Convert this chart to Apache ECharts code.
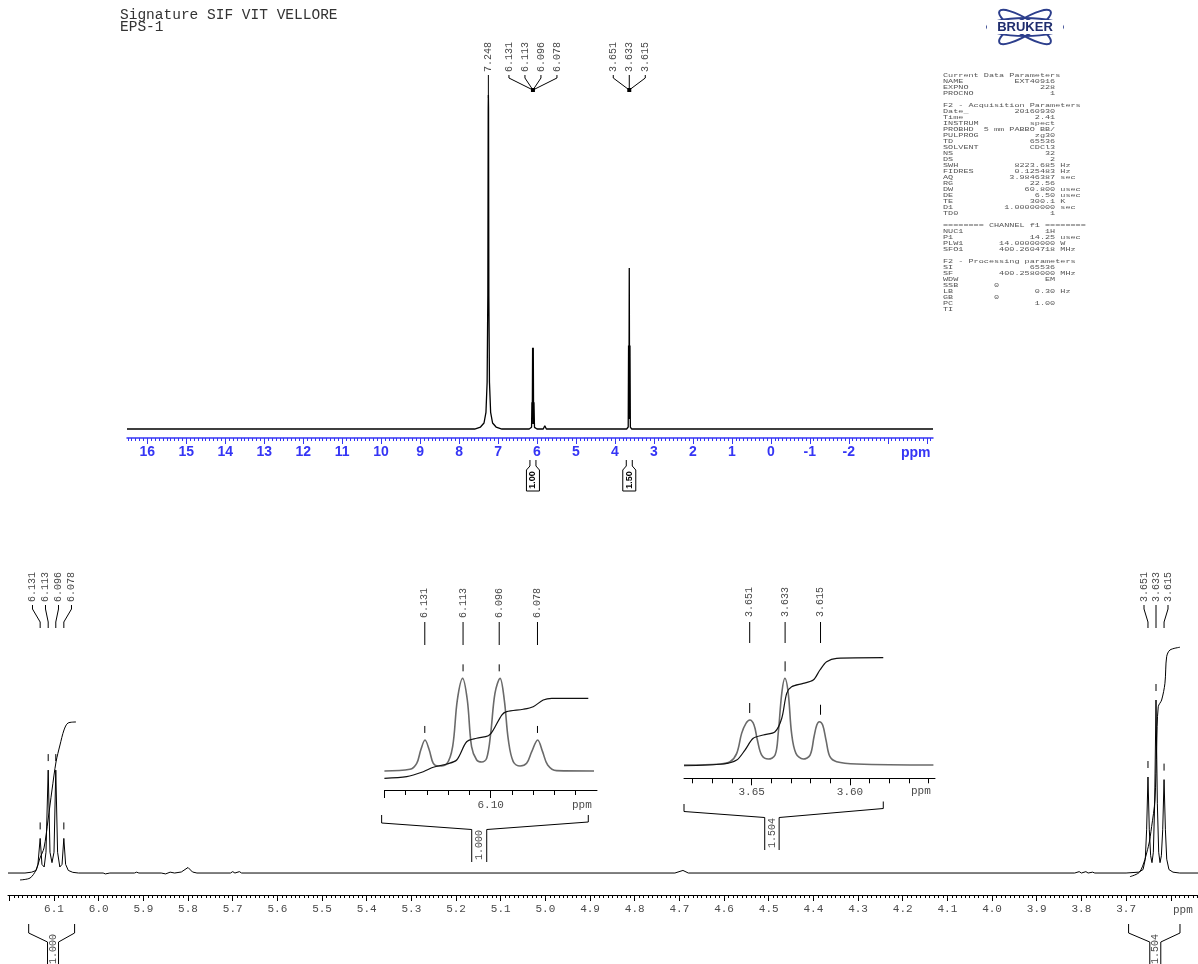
<!DOCTYPE html>
<html><head><meta charset="utf-8">
<script src="https://cdn.jsdelivr.net/npm/echarts@6/dist/echarts.min.js"></script>
<style>html,body{margin:0;padding:0;background:#fff}#c{width:1198px;height:964px}</style>
</head><body><div id="c"></div>
<script>
// ================= DATA =================
const titleLines = ['Signature SIF VIT VELLORE', 'EPS-1'];

// ---- full spectrum (top panel): [ppm, relative intensity] ----
const fullSpectrum = [
  [16.52,0],[12,0],[9,0],[7.6,0],[7.45,0.6],[7.36,1.8],[7.31,5],[7.28,14],[7.262,40],[7.252,96],[7.248,100],[7.244,96],
  [7.236,40],[7.22,14],[7.19,5],[7.14,1.8],[7.05,0.6],[6.9,0],[6.2,0],[6.14,0.5],[6.131,8],[6.122,1.5],
  [6.113,24.3],[6.105,4],[6.096,24.3],[6.087,1.5],[6.078,8],[6.065,0.5],[6.0,0],[5.84,0],[5.8,1],[5.76,0],
  [4.72,0],[4.69,0.5],[4.66,0],[3.7,0],[3.66,0.6],[3.651,25],[3.642,3],[3.633,48.2],[3.624,3],[3.615,25],
  [3.605,0.6],[3.57,0],[-4.16,0]
];
const fullPeakGroups = [[7.248],[6.131,6.113,6.096,6.078],[3.651,3.633,3.615]];
const fullIntegrals = [[6.1045,'1.00'],[3.633,'1.50']];
const fullTickLabels = [16,15,14,13,12,11,10,9,8,7,6,5,4,3,2,1,0,-1,-2];

// ---- expanded spectrum 6.20 - 3.54 ppm (bottom panel) ----
const expSpectrum = [
  [6.203,0],[6.165,0],[6.15,0.5],[6.14,1.5],[6.136,5],[6.131,20],[6.127,5],[6.122,3.5],[6.118,12],[6.113,59.5],
  [6.109,12],[6.1045,6],[6.1,12],[6.096,59.5],[6.092,12],[6.087,3.5],[6.082,5],[6.078,20],[6.074,5],[6.068,1.5],
  [6.058,0.4],[6.045,0],[5.99,0],[5.985,-0.5],[5.975,0],[5.92,0],[5.915,0.5],[5.91,0],[5.86,0],[5.85,-0.5],
  [5.84,0.5],[5.83,0],[5.815,0.6],[5.8,3.2],[5.79,0.6],[5.78,0],[5.705,0],[5.7,0.8],[5.695,0],[5.685,0.8],
  [5.68,0],[4.71,0],[4.692,1.5],[4.68,0],[3.815,0],[3.805,0.8],[3.8,0],[3.79,0.8],[3.785,0],[3.775,0.5],
  [3.77,0],[3.70,0],[3.672,0.5],[3.662,2],[3.657,8],[3.654,25],[3.651,55.5],[3.648,25],[3.645,10],[3.642,6],
  [3.639,12],[3.636,40],[3.633,100],[3.630,40],[3.627,12],[3.624,6],[3.621,10],[3.618,25],[3.615,54],[3.612,25],
  [3.609,8],[3.604,2],[3.595,0.5],[3.58,0],[3.539,0]
];
const expIntegralA = [
  [6.1761,-4.0],[6.1537,-2.9],[6.1403,1.7],[6.1313,8.7],[6.1224,14.5],[6.1134,30.6],[6.1045,48],
  [6.0955,64.2],[6.0866,74],[6.0776,82.7],[6.0687,86.7],[6.0508,87.3]
];
const expIntegralB = [
  [3.6913,-2.1],[3.6689,0.8],[3.6503,15.2],[3.6428,26.8],[3.6354,42.2],[3.6316,73],[3.6280,96.1],
  [3.6204,100],[3.6130,109.7],[3.6092,125],[3.6018,128.9],[3.5794,130.5]
];
const expPeakGroups = [[6.131,6.113,6.096,6.078],[3.651,3.633,3.615]];
const expPeakTops = [[6.131,20],[6.113,59.5],[6.096,59.5],[6.078,20],[3.651,55.5],[3.633,100],[3.615,54]];
const expIntegralRegions = [[6.1567,6.0539,6.1022,'1.000'],[3.6944,3.5793,3.6346,'1.504']];
const expTickLabels = [6.1,6.0,5.9,5.8,5.7,5.6,5.5,5.4,5.3,5.2,5.1,5.0,4.9,4.8,4.7,4.6,4.5,4.4,4.3,4.2,4.1,4.0,3.9,3.8,3.7];

// ---- inset 1 (6.15 - 6.05 ppm) ----
const insetASpectrum = [
  [6.150,0],[6.1380,1.8],[6.1348,8.3],[6.1329,22.7],[6.1309,33.5],[6.1289,22.7],[6.1270,8.3],[6.1246,5.4],
  [6.1207,7.6],[6.1179,26.3],[6.1157,76.6],[6.1132,100],[6.1110,76.6],[6.1090,26.3],[6.1066,11.9],[6.1042,9.7],
  [6.1019,13.7],[6.1000,40.6],[6.0980,83.8],[6.0956,100],[6.0936,76.6],[6.0917,33.5],[6.0894,10.1],[6.0862,5.4],
  [6.0831,8.3],[6.0807,20.9],[6.0779,33.5],[6.0756,20.9],[6.0732,6.5],[6.0690,0.4],[6.0514,0]
];
const insetAIntegral = [
  [6.1500,-7.9],[6.1395,-6.1],[6.1317,-0.8],[6.1270,4.0],[6.1207,7.6],[6.1160,11.9],[6.1113,31.6],[6.1066,35.3],
  [6.1011,38.1],[6.0988,44.2],[6.0948,60.4],[6.0925,64],[6.0847,66.6],[6.0800,69.4],[6.0753,76.6],[6.0713,78.4],[6.0541,78.4]
];
const insetAPeaks = [[6.131,33.5],[6.113,100],[6.096,100],[6.078,33.5]];
const insetARegion = [[6.1513,6.0541,6.1054,'1.000']];
const insetATickLabels = [6.10];

// ---- inset 2 (3.684 - 3.557 ppm) ----
const insetBSpectrum = [
  [3.6844,0],[3.6661,1.2],[3.6610,3.8],[3.6576,13.5],[3.6551,36.5],[3.6529,48],[3.6509,51.9],[3.6488,46.1],
  [3.6471,28.8],[3.6449,11.5],[3.6415,6.9],[3.6381,11.5],[3.6365,36.5],[3.6347,82.7],[3.6331,100],[3.6314,82.7],
  [3.6297,36.5],[3.6275,13.5],[3.6238,6.9],[3.6203,11.5],[3.6183,32.6],[3.6169,46.1],[3.6156,49.9],[3.6139,46.1],
  [3.6122,28.8],[3.6102,9.6],[3.6068,3.8],[3.5966,1.2],[3.5576,0]
];
const insetBIntegral = [
  [3.6844,-0.8],[3.6646,1.2],[3.6576,5.8],[3.6534,17.3],[3.6492,30.8],[3.6441,34.6],[3.6381,38.4],[3.6347,53.9],
  [3.6322,82.7],[3.6297,90.3],[3.6238,94.2],[3.6187,98],[3.6153,109.6],[3.6119,119.1],[3.6068,123.1],[3.5831,123.8]
];
const insetBPeaks = [[3.651,51.9],[3.633,100],[3.615,49.9]];
const insetBRegion = [[3.6844,3.5831,3.6397,'1.504']];
const insetBTickLabels = [3.65, 3.60];

// ---- acquisition parameters text ----
const paramRows = [
  ['Current Data Parameters'],['NAME','EXT40916'],['EXPNO','228'],['PROCNO','1'],[''],
  ['F2 - Acquisition Parameters'],['Date_','20160930'],['Time','2.41'],['INSTRUM','spect'],['PROBHD','5 mm PABBO BB/'],
  ['PULPROG','zg30'],['TD','65536'],['SOLVENT','CDCl3'],['NS','32'],['DS','2'],['SWH','8223.685','Hz'],
  ['FIDRES','0.125483','Hz'],['AQ','3.9846387','sec'],['RG','22.56'],['DW','60.800','usec'],['DE','6.50','usec'],
  ['TE','300.1','K'],['D1','1.00000000','sec'],['TD0','1'],[''],['======== CHANNEL f1 ========'],
  ['NUC1','1H'],['P1','14.25','usec'],['PLW1','14.00000000','W'],['SFO1','400.2604718','MHz'],[''],
  ['F2 - Processing parameters'],['SI','65536'],['SF','400.2580000','MHz'],['WDW','EM'],['SSB','0',null,true],
  ['LB','0.30','Hz'],['GB','0',null,true],['PC','1.00'],['TI']
];

// ================= HELPERS =================
function range(a, b, step, dec) {
  const out = []; const n = Math.round((b - a) / step);
  for (let i = 0; i <= n; i++) out.push(+(a + i * step).toFixed(dec));
  return out;
}
const MONO = '"Liberation Mono", "Courier New", monospace';
const GRAY = '#4a4a4a';

function xAxisPair(grid, min, max, majors, minors, labels, st) {
  const major = {
    gridIndex: grid, type: 'value', min, max, inverse: true, position: 'bottom',
    axisLine: { show: true, onZero: false, lineStyle: { color: st.color, width: st.lineWidth || 1 } },
    axisTick: { show: true, length: st.majorLen, customValues: majors, lineStyle: { color: st.color, width: 1 } },
    axisLabel: Object.assign({ show: true, customValues: labels, margin: st.margin, color: st.labelColor,
      formatter: st.formatter }, st.font),
    splitLine: { show: false }
  };
  const minor = {
    gridIndex: grid, type: 'value', min, max, inverse: true, position: 'bottom',
    axisLine: { show: false, onZero: false },
    axisTick: { show: true, length: st.minorLen, customValues: minors, lineStyle: { color: st.color, width: 1 } },
    axisLabel: { show: false }, splitLine: { show: false }
  };
  return [major, minor];
}

function lineSeries(xi, yi, data, color, width, smooth) {
  return { type: 'line', xAxisIndex: xi, yAxisIndex: yi, data, showSymbol: false, symbol: 'none',
    silent: true, smooth: smooth || false, lineStyle: { color, width }, z: 3, clip: false };
}

function fanSeries(xi, yi, peaks, cfg) {
  const n = peaks.length;
  const center = peaks.reduce((a, b) => a + b, 0) / n;
  return {
    type: 'custom', xAxisIndex: xi, yAxisIndex: yi, silent: true, z: 10, clip: false,
    data: peaks.map(p => [p, 0]),
    renderItem(params, api) {
      const i = params.dataIndex;
      const v = api.value(0);
      const px = api.coord([v, 0])[0];
      const cx = api.coord([center, 0])[0];
      const lx = cfg.spacing == null ? px : cx + (i - (n - 1) / 2) * cfg.spacing;
      const tx = cfg.converge ? cx : px;
      const children = [{
        type: 'text', x: lx, y: cfg.textY, rotation: Math.PI / 2,
        style: { text: v.toFixed(3), align: 'left', verticalAlign: 'middle', font: cfg.font, fill: GRAY }
      }];
      let pts;
      if (n === 1 || cfg.straight) pts = [[lx, cfg.y0], [lx, n === 1 && cfg.singleEnd ? cfg.singleEnd : cfg.y3]];
      else pts = [[lx, cfg.y0], [lx, cfg.y1], [tx, cfg.y2], [tx, cfg.y3]];
      children.push({ type: 'polyline', shape: { points: pts }, style: { stroke: '#000', lineWidth: 1, fill: null } });
      if (cfg.dot && n > 1 && i === 0)
        children.push({ type: 'rect', shape: { x: cx - 2, y: cfg.y2 - 2, width: 4, height: 4 }, style: { fill: '#000' } });
      return { type: 'group', children };
    }
  };
}

function markSeries(xi, yi, peaks, off1, off2) {
  return {
    type: 'custom', xAxisIndex: xi, yAxisIndex: yi, silent: true, z: 9, clip: false, data: peaks,
    renderItem(params, api) {
      const p = api.coord([api.value(0), api.value(1)]);
      return { type: 'line', shape: { x1: p[0], y1: p[1] - off1, x2: p[0], y2: p[1] - off2 },
        style: { stroke: '#000', lineWidth: 1 } };
    }
  };
}

function bracketSeries(xi, yi, regions, cfg) {
  return {
    type: 'custom', xAxisIndex: xi, yAxisIndex: yi, silent: true, z: 9, clip: false,
    data: regions.map(r => [r[0], r[1], r[2]]),
    renderItem(params, api) {
      const r = regions[params.dataIndex];
      const xl = api.coord([r[0], 0])[0], xr = api.coord([r[1], 0])[0], xc = api.coord([r[2], 0])[0];
      const h = cfg.neck, s = { stroke: '#000', lineWidth: 1, fill: null };
      return { type: 'group', children: [
        { type: 'polyline', shape: { points: [[xl, cfg.tickL], [xl, cfg.endL], [xc - h, cfg.neckY], [xc - h, cfg.bottom]] }, style: s },
        { type: 'polyline', shape: { points: [[xr, cfg.tickR], [xr, cfg.endR], [xc + h, cfg.neckY], [xc + h, cfg.bottom]] }, style: s },
        { type: 'text', x: xc + 0.5, y: cfg.textY, rotation: Math.PI / 2,
          style: { text: r[3], align: 'left', verticalAlign: 'middle', font: '10px ' + MONO, fill: GRAY } }
      ] };
    }
  };
}

function bottleSeries(xi, yi, items) {
  return {
    type: 'custom', xAxisIndex: xi, yAxisIndex: yi, silent: true, z: 9, clip: false,
    data: items.map(it => [it[0], 0]),
    renderItem(params, api) {
      const c = api.coord([api.value(0), 0])[0];
      return { type: 'group', children: [
        { type: 'polyline', shape: { points: [[c - 3, 460], [c - 3, 466], [c - 6.5, 470], [c - 6.5, 491], [c + 6.5, 491], [c + 6.5, 470], [c + 3, 466], [c + 3, 460]] },
          style: { stroke: '#000', lineWidth: 1, fill: null } },
        { type: 'text', x: c, y: 480, rotation: Math.PI / 2,
          style: { text: items[params.dataIndex][1], align: 'center', verticalAlign: 'middle', font: 'bold 9px "Liberation Sans", Arial, sans-serif', fill: '#000' } }
      ] };
    }
  };
}

// ================= PARAM TEXT =================
function fmtRow(r) {
  if (r.length === 1) return r[0];
  if (r[3]) return r[0].padEnd(10) + r[1];
  return r[0].padEnd(8) + String(r[1]).padStart(14) + (r[2] ? ' ' + r[2] : '');
}
const paramText = paramRows.map(fmtRow).join('\n');

// ================= OPTION =================
const BLUE = '#3535f5';
const topAxes = xAxisPair(0, -4.16, 16.52, range(-4, 16, 1, 0), range(-4.1, 16.5, 0.1, 1), fullTickLabels,
  { color: BLUE, lineWidth: 1.5, majorLen: 6, minorLen: 3, margin: 7, labelColor: BLUE,
    font: { fontFamily: '"Liberation Sans", Arial, sans-serif', fontWeight: 'bold', fontSize: 14 },
    formatter: v => String(v) });
const botAxes = xAxisPair(1, 3.539, 6.203, range(3.6, 6.2, 0.1, 1), range(3.54, 6.20, 0.01, 2), expTickLabels,
  { color: '#000', majorLen: 6, minorLen: 3, margin: 9, labelColor: GRAY,
    font: { fontFamily: MONO, fontSize: 11 }, formatter: v => v.toFixed(1) });
const inAAxes = xAxisPair(2, 6.05, 6.15, [6.15, 6.10], range(6.06, 6.15, 0.01, 2), insetATickLabels,
  { color: '#000', majorLen: 8, minorLen: 5, margin: 10, labelColor: GRAY,
    font: { fontFamily: MONO, fontSize: 11 }, formatter: v => v.toFixed(2) });
const inBAxes = xAxisPair(3, 3.5568, 3.6844, [3.65, 3.60], range(3.56, 3.68, 0.01, 2), insetBTickLabels,
  { color: '#000', majorLen: 7, minorLen: 5, margin: 8, labelColor: GRAY,
    font: { fontFamily: MONO, fontSize: 11 }, formatter: v => v.toFixed(2) });

const option = {
  backgroundColor: '#fff',
  animation: false,
  grid: [
    { left: 127, right: 265, top: 78.3, bottom: 526, containLabel: false },
    { left: 8, right: 0, top: 630.8, bottom: 69, containLabel: false },
    { left: 384.4, right: 601, top: 659.8, bottom: 174, containLabel: false },
    { left: 684, right: 263, top: 652.3, bottom: 185.7, containLabel: false }
  ],
  xAxis: [...topAxes, ...botAxes, ...inAAxes, ...inBAxes],
  yAxis: [
    { gridIndex: 0, type: 'value', min: -2.69, max: 105, show: false },
    { gridIndex: 1, type: 'value', min: -12.7, max: 140, show: false },
    { gridIndex: 2, type: 'value', min: -20.5, max: 120, show: false },
    { gridIndex: 3, type: 'value', min: -15.3, max: 130, show: false }
  ],
  series: [
    lineSeries(0, 0, fullSpectrum, '#000', 1.3, false),
    lineSeries(2, 1, expSpectrum, '#000', 1, false),
    lineSeries(2, 1, expIntegralA, '#000', 1, 0.3),
    lineSeries(2, 1, expIntegralB, '#000', 1, 0.3),
    lineSeries(4, 2, insetASpectrum, '#6a6a6a', 1.6, 0.35),
    lineSeries(4, 2, insetAIntegral, '#111', 1.2, 0.3),
    lineSeries(6, 3, insetBSpectrum, '#6a6a6a', 1.6, 0.35),
    lineSeries(6, 3, insetBIntegral, '#111', 1.2, 0.3),
    // top panel labels
    ...fullPeakGroups.map(g => fanSeries(0, 0, g, { spacing: 16, converge: true, textY: 72, y0: 75, y1: 78, y2: 90, y3: 90,
      singleEnd: 98, dot: true, font: '10px ' + MONO })),
    bottleSeries(0, 0, fullIntegrals),
    // bottom panel labels
    fanSeries(2, 1, expPeakGroups[0], { spacing: 13, converge: false, textY: 602, y0: 605, y1: 609, y2: 622, y3: 628, font: '10px ' + MONO }),
    fanSeries(2, 1, expPeakGroups[1], { spacing: 12, converge: false, textY: 602, y0: 605, y1: 609, y2: 622, y3: 628, font: '10px ' + MONO }),
    markSeries(2, 1, expPeakTops, 16, 9),
    bracketSeries(2, 1, expIntegralRegions, { tickL: 924, endL: 933, tickR: 924, endR: 933, neckY: 942, bottom: 970, neck: 5.5, textY: 964 }),
    // inset 1
    fanSeries(4, 2, insetAPeaks.map(p => p[0]), { spacing: null, straight: true, textY: 618, y0: 622, y3: 645, font: '10px ' + MONO }),
    markSeries(4, 2, insetAPeaks, 14, 7),
    bracketSeries(4, 2, insetARegion, { tickL: 815, endL: 823, tickR: 815, endR: 822, neckY: 829.5, bottom: 862, neck: 7.5, textY: 860 }),
    // inset 2
    fanSeries(6, 3, insetBPeaks.map(p => p[0]), { spacing: null, straight: true, textY: 617, y0: 622, y3: 643, font: '10px ' + MONO }),
    markSeries(6, 3, insetBPeaks, 17, 7),
    bracketSeries(6, 3, insetBRegion, { tickL: 804, endL: 811.5, tickR: 801.5, endR: 808.5, neckY: 817.5, bottom: 850, neck: 7.2, textY: 848 })
  ],
  graphic: [
    { type: 'text', x: 120, y: 9, style: { text: titleLines.join('\n'), font: '14.5px ' + MONO, fill: '#333', lineHeight: 12 } },
    // axis unit labels
    { type: 'text', x: 901, y: 446, style: { text: 'ppm', font: 'bold 14px "Liberation Sans", Arial, sans-serif', fill: BLUE } },
    { type: 'text', x: 1173, y: 905, style: { text: 'ppm', font: '11px ' + MONO, fill: GRAY } },
    { type: 'text', x: 572, y: 800, style: { text: 'ppm', font: '11px ' + MONO, fill: GRAY } },
    { type: 'text', x: 911, y: 786, style: { text: 'ppm', font: '11px ' + MONO, fill: GRAY } },
    // parameters block
    { type: 'text', x: 943, y: 72, scaleY: 0.706, style: { text: paramText, font: '8.5px ' + MONO, fill: '#555', lineHeight: 8.5 } },
    // Bruker logo
    { type: 'group', x: 1025, y: 27, children: [
      { type: 'ellipse', shape: { cx: 0, cy: 0, rx: 38, ry: 9 }, style: { stroke: '#2c3e8c', lineWidth: 2, fill: null } },
      { type: 'ellipse', rotation: 0.55, shape: { cx: 0, cy: 0, rx: 30, ry: 8 }, style: { stroke: '#2c3e8c', lineWidth: 2, fill: null } },
      { type: 'ellipse', rotation: -0.55, shape: { cx: 0, cy: 0, rx: 30, ry: 8 }, style: { stroke: '#2c3e8c', lineWidth: 2, fill: null } },
      { type: 'rect', shape: { x: -38, y: -7, width: 76, height: 14 }, style: { fill: '#fff' } },
      { type: 'text', x: 0, y: 0, style: { text: 'BRUKER', align: 'center', verticalAlign: 'middle', font: 'bold 13px "Liberation Sans", Arial, sans-serif', fill: '#1f2d6e' } }
    ] }
  ]
};

const chart = echarts.init(document.getElementById('c'));
chart.setOption(option);
</script>
</body></html>
